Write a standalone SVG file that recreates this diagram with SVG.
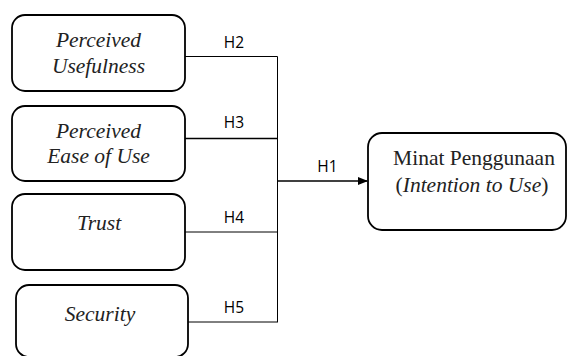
<svg xmlns="http://www.w3.org/2000/svg" width="568" height="356" viewBox="0 0 568 356">
<defs>
<style>
.box{fill:#fff;stroke:#000;stroke-width:1.8}
.t{font-size:21.5px;fill:#222;text-anchor:middle}
.i{font-style:italic}
.h{font-size:15.5px;fill:#000;text-anchor:middle}
.ln{stroke:#000;fill:none}
</style>
<marker id="arr" markerWidth="10" markerHeight="8" refX="9" refY="4" orient="auto" markerUnits="userSpaceOnUse">
<path d="M0,0 L10,4 L0,8 z" fill="#000"/>
</marker>
</defs>
<g font-family="'Liberation Serif', 'Times New Roman', serif">
<g id="n-pu"><rect class="box" x="12" y="15" width="173" height="76" rx="13"/>
<text class="t i" x="98.5" y="47">Perceived</text><text class="t i" x="98.5" y="73">Usefulness</text></g>
<g id="n-peou"><rect class="box" x="12" y="106" width="173" height="75" rx="13"/>
<text class="t i" x="98.5" y="138">Perceived</text><text class="t i" x="98.5" y="163">Ease of Use</text></g>
<g id="n-trust"><rect class="box" x="12" y="194" width="173" height="76" rx="13"/>
<text class="t i" x="99" y="230">Trust</text></g>
<g id="n-security"><rect class="box" x="16" y="285" width="172" height="72" rx="13"/>
<text class="t i" x="100" y="321">Security</text></g>
<g id="n-minat"><rect class="box" x="368" y="133" width="198" height="97" rx="14"/>
<text class="t" x="474" y="165">Minat Penggunaan</text>
<text class="t" x="472" y="192">(<tspan class="i">Intention to Use</tspan>)</text></g>
</g>
<g id="connectors" font-family="'Open Sans', 'Liberation Sans', sans-serif">
<path class="ln" d="M185,56.5 H277.5 V322" stroke-width="1"/>
<path class="ln" d="M185,138.5 H278" stroke-width="1.6"/>
<path class="ln" d="M185,232 H278" stroke-width="1"/>
<path class="ln" d="M188,322 H278" stroke-width="1"/>
<path class="ln" d="M278,181 H367" stroke-width="1.6" marker-end="url(#arr)"/>
<text class="h" x="234" y="48">H2</text>
<text class="h" x="234" y="128">H3</text>
<text class="h" x="234" y="223">H4</text>
<text class="h" x="234" y="313">H5</text>
<text class="h" x="327.5" y="172">H1</text>
</g>
</svg>
